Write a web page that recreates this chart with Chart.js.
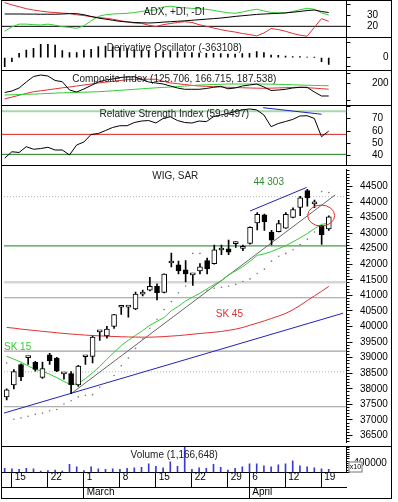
<!DOCTYPE html>
<html>
<head>
<meta charset="utf-8">
<title>WIG, SAR</title>
<script src="https://cdn.jsdelivr.net/npm/chart.js@4.4.1/dist/chart.umd.min.js"></script>
<style>
  html, body { margin: 0; padding: 0; background: #fff; }
  #wrap { position: relative; width: 398px; height: 502px; overflow: hidden; }
  #wrap canvas { position: absolute; left: 0; }
</style>
</head>
<body>
<div id="wrap">
  <canvas id="adxChart"></canvas>
  <canvas id="doChart"></canvas>
  <canvas id="ciChart"></canvas>
  <canvas id="rsiChart"></canvas>
  <canvas id="mainChart"></canvas>
  <canvas id="volChart"></canvas>
</div>
<script>
// daily candles, 46 sessions (12 Feb - 20 Apr)
const openPrices = [37740, 38124, 38780, 39000, 38850, 38365, 39090, 38985, 38480, 38490,
  38125, 39030, 39040, 39830, 39695, 40005, 40620, 40625, 40565, 41040,
  41165, 41290, 41100, 42040, 41980, 41820, 41660, 41790, 42120, 42020,
  42460, 42500, 42665, 42510, 42670, 43330, 43590, 43035, 43045, 43160,
  43505, 43825, 44365, 43940, 43245, 43140];
const highPrices = [38000, 38620, 38800, 39020, 38885, 38860, 39140, 39010, 38495, 38550,
  38750, 39045, 39690, 39845, 40005, 40390, 40635, 40635, 41110, 41170,
  41580, 41375, 41690, 42360, 42100, 42120, 41670, 42020, 42200, 42620,
  42620, 42780, 42725, 42620, 43200, 43660, 43610, 43090, 43410, 43660,
  43815, 44180, 44410, 44060, 43250, 43560];
const lowPrices = [37640, 38000, 38260, 38780, 38570, 38330, 38780, 38550, 38310, 37845,
  38075, 38780, 38830, 39555, 39630, 39940, 40390, 40300, 40540, 40980,
  41145, 40855, 41080, 41915, 41690, 41430, 41320, 41690, 41690, 42000,
  42310, 42310, 42540, 42435, 42650, 43100, 43090, 42620, 43040, 43150,
  43490, 43560, 43870, 43815, 42640, 43090];
const closePrices = [37970, 38550, 38385, 39010, 38620, 38650, 38900, 38575, 38490, 38135,
  38730, 39040, 39660, 39840, 39920, 40388, 40630, 40630, 41040, 41045,
  41290, 41085, 41687, 42055, 41790, 41690, 41665, 41915, 41850, 42465,
  42470, 42390, 42675, 42520, 43190, 43605, 43370, 42775, 43305, 43605,
  43760, 44135, 44135, 43955, 42950, 43525];

// overlays on the price panel
const sarValues = [38830, 37024, 37064, 37118, 37180, 37220, 37295, 37335, 37513, 37616,
  37740, 37793, 37812, 38052, 38208, 38426, 38738, 38987, 39298, 39610,
  39943, 40233, 40544, 40802, 41083, 41301, 42350, 42350, 41167, 41229,
  41260, 41292, 41354, 41447, 41531, 41706, 41843, 42101, 42257, 42350,
  42466, 42631, 42808, 43036, 44335, 44304];
const sk15 = [39045, 38952, 38858, 38734, 38624, 38562, 38469, 38360, 38235, 38126,
  38172, 38328, 38515, 38718, 38952, 39170, 39388, 39560, 39715, 39871,
  40043, 40167, 40292, 40510, 40651, 40822, 40947, 41071, 41212, 41352,
  41477, 41664, 41788, 41928, 42100, 42287, 42334, 42412, 42505, 42599,
  42723, 42848, 42988, 43144, 43284, 43316];
const sk45 = [39971, 39949, 39918, 39893, 39871, 39846, 39824, 39800, 39778, 39759,
  39743, 39725, 39712, 39700, 39690, 39681, 39672, 39666, 39662, 39659,
  39659, 39666, 39678, 39694, 39709, 39731, 39753, 39778, 39796, 39818,
  39843, 39877, 39918, 39971, 40043, 40111, 40183, 40261, 40339, 40423,
  40541, 40682, 40838, 40987, 41134, 41289];
const trendLineX = [9, 45.9];
const trendLineY = [37845, 44230];
const supportLineX = [-0.375, 47.0];
const supportLineY = [37220, 40430];
const topLineX = [34, 41.9];
const topLineY = [43712, 44469];
const mainLevels = [44173, 42590, 41424, 40925, 39211, 38547, 37424];

// lower / upper panels
const volumes = [179000, 157000, 135000, 179000, 157000, 67000, 90000, 112000, 67000, 359000,
  247000, 90000, 247000, 157000, 135000, 157000, 135000, 179000, 202000, 224000,
  381000, 269000, 202000, 471000, 269000, 1166648, 135000, 202000, 179000, 359000,
  224000, 112000, 179000, 247000, 381000, 381000, 292000, 247000, 337000, 381000,
  516000, 292000, 247000, 202000, 157000, 135000];
const derivOsc = [-486000, -216000, 232000, 416000, 502000, 718000, 718000, 686000, 378000, 270000,
  270000, 416000, 448000, 594000, 632000, 594000, 540000, 486000, 448000, 416000,
  378000, 362000, 324000, 340000, 308000, 286000, 270000, 254000, 232000, 232000,
  216000, 200000, 200000, 216000, 232000, 324000, 270000, 146000, 124000, 92000,
  54000, 54000, 27000, 16000, -216000, -363108];
const adxValues = [31.2, 31.2, 31.2, 31.1, 31.1, 31.0, 31.0, 31.0, 31.2, 31.5,
  31.5, 30.5, 29.0, 27.5, 26.5, 25.5, 24.5, 24.0, 23.5, 23.2,
  23.0, 23.3, 23.8, 24.2, 24.6, 25.0, 25.5, 26.0, 26.5, 27.0,
  27.5, 28.2, 29.0, 29.6, 30.2, 30.8, 31.2, 31.5, 31.8, 32.2,
  32.8, 33.5, 34.3, 34.8, 33.5, 32.5];
const plusDI = [15.5, 19.5, 22.0, 22.0, 21.5, 21.2, 22.0, 21.0, 19.7, 19.0,
  18.2, 20.5, 25.0, 29.0, 30.5, 31.2, 31.5, 31.8, 32.5, 33.5,
  34.5, 34.8, 37.5, 38.3, 37.3, 36.8, 36.3, 36.0, 35.5, 34.5,
  33.3, 32.3, 31.8, 33.0, 34.5, 35.5, 34.0, 32.6, 32.2, 32.0,
  33.5, 35.0, 36.4, 35.5, 32.2, 30.3];
const minusDI = [41.5, 39.5, 37.8, 36.0, 34.8, 33.8, 33.0, 32.5, 32.0, 31.6,
  30.5, 29.8, 28.7, 28.0, 27.4, 26.5, 25.2, 24.0, 23.0, 22.7,
  21.0, 19.8, 21.5, 22.5, 23.5, 24.2, 23.5, 21.5, 20.0, 18.5,
  17.0, 15.8, 14.8, 13.5, 12.5, 11.3, 14.0, 18.0, 17.0, 15.5,
  13.5, 12.0, 11.0, 19.0, 27.0, 24.5];
const adxLevel = 20;
const ciBlack = [146.8, 155.9, 174.0, 210.3, 243.5, 252.5, 246.5, 219.3, 212.0, 161.9,
  149.9, 168.0, 189.1, 210.3, 222.3, 228.4, 237.4, 240.5, 242.3, 225.4,
  210.3, 204.2, 198.2, 186.1, 174.0, 166.2, 166.2, 166.2, 171.0, 178.3,
  184.3, 169.2, 174.0, 186.1, 192.1, 198.2, 180.1, 158.9, 161.9, 166.2,
  174.0, 178.3, 178.3, 149.9, 125.7, 125.7];
const ciRed = [108, 119, 130, 141, 151.7, 157, 163, 169, 175, 180,
  186, 192, 198, 204, 209, 214, 219, 224, 226.6, 227,
  227, 226.6, 215, 205, 200, 195, 190, 186, 184, 182,
  180, 178.3, 177, 175.5, 174, 173, 172.2, 173, 174.5, 176,
  177.5, 178.3, 176, 173, 170, 166.7];
const ciGreen = [132, 133, 134.5, 136, 137, 139, 141, 143, 145, 146.5,
  147.5, 148.5, 150, 151.5, 154, 157, 160, 163, 166, 169,
  172, 175, 177.5, 180, 183, 186, 189, 192, 193.5, 195,
  196.5, 198, 198, 198, 198, 198, 198, 197, 196, 195,
  193.5, 192, 190.5, 189.5, 188.5, 187.5];
const rsiValues = [38, 43.2, 42.6, 47.3, 45.2, 45.8, 46.8, 44.6, 44.6, 40.6,
  48.7, 51.1, 57.2, 58, 60.4, 62.9, 64.3, 64.3, 66.9, 68.1,
  68.5, 66.5, 70.2, 71.6, 68.5, 66.9, 66.5, 68.1, 67.6, 71.6,
  73, 74.2, 75.8, 77.1, 77.9, 77.1, 73, 63.5, 66.1, 67.7,
  69.4, 72.2, 72.4, 70.2, 55.4, 59.95];
const rsiLevels = [76, 57.3, 41.1];
const rsiTopLineX = [35.9, 44.0];
const rsiTopLineY = [78.9, 73.6];

// axis ticks
const dayTickPos = [1, 6, 11, 16, 21, 26, 31, 34, 39, 44];
const dayTickLabels = ['15', '22', '1', '8', '15', '22', '29', '6', '12', '19'];
const monthTickPos = [11, 34];
const monthTickLabels = ['March', 'April'];
const mainTicks = [36500, 37000, 37500, 38000, 38500, 39000, 39500, 40000, 40500,
  41000, 41500, 42000, 42500, 43000, 43500, 44000, 44500];
const adxTicks = [20, 30, 40];
const adxLabels = [20, 30];
const doTicks = [800000, 0, -500000];
const doLabels = [0];
const ciTicks = [100, 200, 260];
const ciLabels = [200];
const rsiTicks = [40, 50, 60, 70, 80];
const rsiLabels = [40, 50, 60, 70];
const volTicks = [400000];
const volLabels = [400000];

const FONT = '"Liberation Sans", Arial, sans-serif';
const X_MIN = -0.375, X_MAX = 47.47;

const pts = arr => arr.map((v, i) => ({ x: i, y: v }));
const pairs = (xs, ys) => xs.map((x, i) => ({ x, y: ys[i] }));
const hline = v => [{ x: X_MIN, y: v }, { x: X_MAX, y: v }];

function lineDs(data, color, extra) {
  return Object.assign({
    type: 'line', data, borderColor: color, borderWidth: 1,
    pointRadius: 0, tension: 0, fill: false, order: 3
  }, extra || {});
}

// right hand value axis plus optional unlabeled minor ticks
function rightAxes(min, max, ticks, labels, tickLen, pad, minorTicks, minorLen) {
  const axes = {
    y: {
      position: 'right', min, max, weight: 1, beginAtZero: false,
      afterBuildTicks: s => { s.ticks = ticks.map(v => ({ value: v })); },
      afterFit: s => { s.width = 44; s.paddingTop = 0; s.paddingBottom = 0; },
      grid: { drawOnChartArea: false, tickLength: tickLen, color: '#000' },
      border: { display: true, color: '#000' },
      ticks: {
        autoSkip: false, padding: pad, color: '#000', font: { family: FONT, size: 10 },
        callback: v => (labels.indexOf(v) >= 0 ? String(v) : '')
      }
    }
  };
  if (minorTicks) {
    axes.yMinor = {
      position: 'right', min, max, weight: 0,
      afterBuildTicks: s => { s.ticks = minorTicks.map(v => ({ value: v })); },
      afterFit: s => { s.width = 0; s.paddingTop = 0; s.paddingBottom = 0; },
      grid: { drawOnChartArea: false, tickLength: minorLen, color: '#000' },
      border: { display: false },
      ticks: { display: false }
    };
  }
  return axes;
}

const hiddenX = { type: 'linear', min: X_MIN, max: X_MAX, display: false, offset: false, grid: { offset: false } };

// panel frame and separators
const framePlugin = {
  id: 'frame',
  afterDraw(chart, args, o) {
    const c = chart.ctx, h = chart.height;
    c.save();
    c.strokeStyle = '#000';
    c.lineWidth = 1;
    c.beginPath();
    c.moveTo(1, 0.5); c.lineTo(392, 0.5);
    c.moveTo(1.5, 0); c.lineTo(1.5, h);
    c.moveTo(391.5, 0); c.lineTo(391.5, h);
    if (o.bottom) { c.moveTo(1, h - 0.5); c.lineTo(392, h - 0.5); }
    c.stroke();
    c.restore();
  }
};

// centred caption inside each panel
const titlePlugin = {
  id: 'panelTitle',
  afterDatasetsDraw(chart, args, o) {
    if (!o.text) return;
    const c = chart.ctx, a = chart.chartArea;
    c.save();
    c.font = '10px ' + FONT;
    c.fillStyle = '#222';
    c.textAlign = 'center';
    c.textBaseline = 'middle';
    c.fillText(o.text, (a.left + a.right) / 2, a.top + o.y);
    c.restore();
  }
};

// labels and the ring on the price panel
const notesPlugin = {
  id: 'notes',
  afterDatasetsDraw(chart, args, o) {
    const c = chart.ctx, xs = chart.scales.x, ys = chart.scales.y;
    c.save();
    c.font = '10px ' + FONT;
    c.textBaseline = 'middle';
    o.labels.forEach(l => {
      c.fillStyle = l.color;
      c.textAlign = l.align;
      c.fillText(l.text, xs.getPixelForValue(l.x), ys.getPixelForValue(l.y));
    });
    const r = o.ring;
    c.strokeStyle = r.color;
    c.lineWidth = 1;
    c.beginPath();
    c.ellipse(xs.getPixelForValue(r.x), ys.getPixelForValue(r.y), r.rx, r.ry, 0, 0, Math.PI * 2);
    c.stroke();
    c.restore();
  }
};

// small "x10" box over the volume axis
const volBoxPlugin = {
  id: 'volBox',
  afterDraw(chart) {
    const c = chart.ctx, ys = chart.scales.y, a = chart.chartArea;
    c.save();
    c.fillStyle = '#fff';
    c.fillRect(ys.left + 2, a.bottom - 11, 14, 10.5);
    c.strokeStyle = '#777';
    c.strokeRect(ys.left + 2.5, a.bottom - 10.5, 13, 10);
    c.fillStyle = '#000';
    c.font = '7px ' + FONT;
    c.textAlign = 'center';
    c.textBaseline = 'middle';
    c.fillText('x10', ys.left + 9, a.bottom - 5.5);
    c.restore();
  }
};

function makePanel(id, top, height, datasets, scales, pluginOpts, extraPlugins) {
  const cv = document.getElementById(id);
  cv.width = 398;
  cv.height = height;
  cv.style.top = top + 'px';
  return new Chart(cv, {
    type: 'line',
    data: { datasets },
    options: {
      responsive: false,
      animation: false,
      events: [],
      layout: { padding: { left: 2, right: 7.5, top: 0, bottom: 0 } },
      plugins: Object.assign({ legend: { display: false }, tooltip: { enabled: false } }, pluginOpts),
      scales: Object.assign({ x: hiddenX }, scales)
    },
    plugins: [framePlugin, titlePlugin].concat(extraPlugins || [])
  });
}

// ADX, +DI, -DI
makePanel('adxChart', 0, 37, [
  lineDs(hline(adxLevel), '#000', { order: 5 }),
  lineDs(pts(minusDI), '#e03030'),
  lineDs(pts(plusDI), '#33cc33'),
  lineDs(pts(adxValues), '#000', { order: 2 })
], rightAxes(10.3, 43.9, adxTicks, adxLabels, 4, 16.5),
{ panelTitle: { text: 'ADX, +DI, -DI', y: 12.7 } });

// Derivative Oscillator
makePanel('doChart', 37, 33, [
  { type: 'bar', data: pts(derivOsc), backgroundColor: '#000', barThickness: 1, grouped: false }
], rightAxes(-664200, 1117800, doTicks, doLabels, 4, 32.5),
{ panelTitle: { text: 'Derivative Oscillator (-363108)', y: 11.3 } });

// Composite Index
makePanel('ciChart', 70, 35, [
  lineDs(pts(ciGreen), '#33cc33'),
  lineDs(pts(ciRed), '#e03030'),
  lineDs(pts(ciBlack), '#000', { order: 2 })
], rightAxes(71.3, 282.7, ciTicks, ciLabels, 4, 21.5),
{ panelTitle: { text: 'Composite Index (125.706, 166.715, 187.538)', y: 9.3 } });

// RSI
makePanel('rsiChart', 105, 60, [
  lineDs(hline(rsiLevels[0]), '#a8d8a8', { borderWidth: 2, order: 6 }),
  lineDs(hline(rsiLevels[1]), '#d82020', { order: 6 }),
  lineDs(hline(rsiLevels[2]), '#1a7f1a', { order: 6 }),
  lineDs(pairs(rsiTopLineX, rsiTopLineY), '#2222bb', { order: 4 }),
  lineDs(pts(rsiValues), '#000', { order: 2 })
], rightAxes(32.45, 81.1, rsiTicks, rsiLabels, 4, 21.5),
{ panelTitle: { text: 'Relative Strength Index (59.9497)', y: 9 } });

// price panel
const mainLevelStyles = [
  { color: '#b8b8b8', width: 1, dash: [1, 2] },
  { color: '#1a7f1a', width: 1 },
  { color: '#d6d6d6', width: 2.5 },
  { color: '#9a9a9a', width: 1 },
  { color: '#8a8a8a', width: 1 },
  { color: '#b8b8b8', width: 1, dash: [1, 2] },
  { color: '#9a9a9a', width: 1 }
];
const mainMinor = [];
for (let v = 36300; v <= 45000; v += 100) mainMinor.push(v);

const levelSets = mainLevels.map((v, k) => lineDs(hline(v), mainLevelStyles[k].color, {
  borderWidth: mainLevelStyles[k].width, borderDash: mainLevelStyles[k].dash || [], order: 8
}));

makePanel('mainChart', 165, 281, levelSets.concat([
  lineDs(pairs(supportLineX, supportLineY), '#2222bb', { order: 6 }),
  lineDs(pairs(topLineX, topLineY), '#2222bb', { order: 6 }),
  lineDs(pairs(trendLineX, trendLineY), '#666', { order: 6 }),
  lineDs(pts(sk45), '#e03030', { order: 5 }),
  lineDs(pts(sk15), '#33cc33', { order: 5 }),
  lineDs(pts(sarValues), '#777', { showLine: false, pointRadius: 0.8, pointBorderWidth: 0, pointBackgroundColor: '#777', order: 4 }),
  {
    type: 'bar', order: 1, grouped: false, barThickness: 1, backgroundColor: '#000',
    data: highPrices.map((h, i) => ({ x: i, y: [lowPrices[i], h] }))
  },
  {
    type: 'bar', order: 0, grouped: false, barThickness: 5, minBarLength: 2,
    borderWidth: 1, borderSkipped: false, borderColor: '#000',
    backgroundColor: ctx => (closePrices[ctx.dataIndex] >= openPrices[ctx.dataIndex] ? '#fff' : '#000'),
    data: openPrices.map((o, i) => ({ x: i, y: [o, closePrices[i]] }))
  }
]), rightAxes(36291, 45061, mainTicks, mainTicks, 6, 7.5, mainMinor, 3),
{
  panelTitle: { text: 'WIG, SAR', y: 7.7 },
  notes: {
    labels: [
      { text: '44 303', x: 36.6, y: 44646, color: '#2f8f2f', align: 'center' },
      { text: 'SK 45', x: 29.2, y: 40386, color: '#e03030', align: 'left' },
      { text: 'SK 15', x: -0.375, y: 39348, color: '#33cc33', align: 'left' }
    ],
    ring: { x: 43.93, y: 43565, rx: 13.5, ry: 10.5, color: '#e03030' }
  }
}, [notesPlugin]);

// volume panel with the date rows
const volMinor = [];
for (let v = 0; v <= 1100000; v += 100000) volMinor.push(v);

const volScales = rightAxes(0, 1170000, volTicks, volLabels, 4, 3, volMinor, 3);
volScales.x = {
  type: 'linear', min: X_MIN, max: X_MAX, position: 'bottom', weight: 0, offset: false,
  afterBuildTicks: s => { s.ticks = dayTickPos.map(v => ({ value: v })); },
  afterFit: s => { s.height = 14.5; s.paddingLeft = 0; s.paddingRight = 0; },
  grid: { drawOnChartArea: false, offset: false, tickLength: 14.5, color: '#000' },
  border: { display: true, color: '#000' },
  ticks: {
    autoSkip: false, maxRotation: 0, minRotation: 0, align: 'start', padding: -15.5,
    color: '#000', font: { family: FONT, size: 10 },
    callback: (v, i) => ' ' + dayTickLabels[i]
  }
};
volScales.x2 = {
  type: 'linear', min: X_MIN, max: X_MAX, position: 'bottom', weight: 1, offset: false,
  afterBuildTicks: s => { s.ticks = monthTickPos.map(v => ({ value: v })); },
  afterFit: s => { s.height = 12; s.paddingLeft = 0; s.paddingRight = 0; },
  grid: { drawOnChartArea: false, offset: false, tickLength: 12, color: '#000' },
  border: { display: true, color: '#000' },
  ticks: {
    autoSkip: false, maxRotation: 0, minRotation: 0, align: 'start', padding: -12.8,
    color: '#000', font: { family: FONT, size: 10 },
    callback: (v, i) => ' ' + monthTickLabels[i]
  }
};

makePanel('volChart', 446, 53, [
  { type: 'bar', data: pts(volumes), backgroundColor: '#3b3bd6', barThickness: 1, grouped: false }
], volScales,
{ panelTitle: { text: 'Volume (1,166,648)', y: 9 }, frame: { bottom: true } },
[volBoxPlugin]);
</script>
</body>
</html>
